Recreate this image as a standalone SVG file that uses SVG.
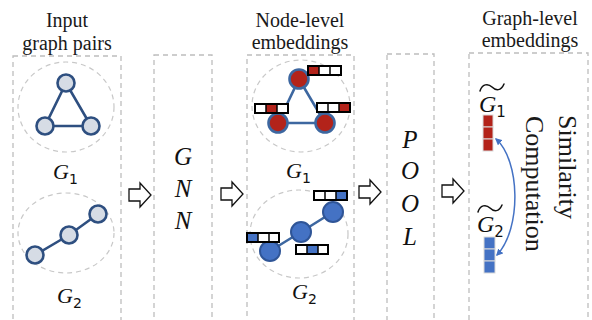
<svg xmlns="http://www.w3.org/2000/svg" width="592" height="320" viewBox="0 0 592 320">
<defs>
<style>
.panel{fill:none;stroke:#bdbdbd;stroke-width:1.3;stroke-dasharray:5,4}
.ring{fill:none;stroke:#c8c8c8;stroke-width:1.2;stroke-dasharray:5,4}
.hdr{font-family:"Liberation Serif","Times New Roman",serif;font-size:20px;fill:#1a1a1a;text-anchor:middle}
.math{font-family:"Liberation Serif","Times New Roman",serif;font-style:italic;font-size:22px;fill:#111}
.mbig{font-family:"Liberation Serif","Times New Roman",serif;font-style:italic;font-size:25px;fill:#111;text-anchor:middle}
.sub{font-family:"DejaVu Sans","Liberation Sans",sans-serif;font-style:normal;font-size:14px;fill:#111}
.big{font-family:"Liberation Serif","Times New Roman",serif;font-size:26px;fill:#1a1a1a}
.e1{stroke:#2e4f80;stroke-width:2.6;fill:none}
.n1{fill:#d6dce5;stroke:#2e4f80;stroke-width:2.6}
.e3{stroke:#3d67a0;stroke-width:2.6;fill:none}
.nr{fill:#b3231a;stroke:#3d67a0;stroke-width:2.6}
.nb{fill:#4472c4;stroke:#2f5597;stroke-width:2}
.box{fill:#fff;stroke:#000;stroke-width:2}
.frame{fill:none;stroke:#000;stroke-width:2}
.div{stroke:#000;stroke-width:1.5}
.cr{fill:#b3231a}
.cb{fill:#4472c4}
.harrow{fill:#fff;stroke:#111;stroke-width:1.3;stroke-linejoin:miter}
.sq{stroke:#d9d9d9;stroke-width:1}
.tilde{fill:none;stroke:#111;stroke-width:1.5;stroke-linecap:round}
</style>
<path id="ha" d="M0,-6 H11 V-12 L22,0 L11,12 V6 H0 Z"/>
<marker id="ah" viewBox="0 0 10 10" refX="8" refY="5" markerWidth="7" markerHeight="7" orient="auto-start-reverse" markerUnits="userSpaceOnUse">
<path d="M0,0 L10,5 L0,10 Z" fill="#4472c4"/>
</marker>
</defs>

<g id="headers">
<text class="hdr" x="67" y="27">Input</text>
<text class="hdr" x="67" y="50">graph pairs</text>
<text class="hdr" x="300" y="27">Node-level</text>
<text class="hdr" x="300" y="49">embeddings</text>
<text class="hdr" x="530" y="25">Graph-level</text>
<text class="hdr" x="530" y="47">embeddings</text>
</g>

<g id="panels">
<rect class="panel" x="13" y="56" width="108" height="280"/>
<rect class="panel" x="154" y="55" width="58" height="280"/>
<rect class="panel" x="247" y="55" width="107" height="280"/>
<rect class="panel" x="387" y="54" width="47" height="280"/>
<rect class="panel" x="469" y="53" width="119" height="280"/>
</g>

<g id="input-g1">
<ellipse class="ring" cx="66" cy="107" rx="48" ry="45"/>
<path class="e1" d="M66,83 L45,126 L91,126 Z"/>
<circle class="n1" cx="66" cy="83" r="8.5"/>
<circle class="n1" cx="45" cy="126" r="8.5"/>
<circle class="n1" cx="91" cy="126" r="8.5"/>
<text class="math" x="53" y="179">G<tspan class="sub" dy="5">1</tspan></text>
</g>

<g id="input-g2">
<ellipse class="ring" cx="66" cy="233" rx="48" ry="40"/>
<path class="e1" d="M35,255 L69,235 L98,214"/>
<circle class="n1" cx="35" cy="255" r="8.5"/>
<circle class="n1" cx="69" cy="235" r="8.5"/>
<circle class="n1" cx="98" cy="214" r="8.5"/>
<text class="math" x="57" y="303">G<tspan class="sub" dy="5">2</tspan></text>
</g>

<g id="gnn">
<text class="mbig" x="183" y="165">G</text>
<text class="mbig" x="183" y="197">N</text>
<text class="mbig" x="183" y="229">N</text>
</g>

<g id="node-g1">
<ellipse class="ring" cx="301" cy="106" rx="49" ry="46"/>
<path class="e3" d="M299,79 L278,123 L325,123 Z"/>
<circle class="nr" cx="299" cy="79" r="9.5"/>
<circle class="nr" cx="278" cy="123" r="9.5"/>
<circle class="nr" cx="325" cy="123" r="9.5"/>
<rect class="box" x="308" y="66" width="33" height="9"/>
<rect class="cr" x="308" y="66" width="11" height="9"/>
<rect class="frame" x="308" y="66" width="33" height="9"/>
<line class="div" x1="319" y1="66" x2="319" y2="75"/><line class="div" x1="330" y1="66" x2="330" y2="75"/>
<rect class="box" x="255" y="104" width="33" height="9"/>
<rect class="cr" x="266" y="104" width="11" height="9"/>
<rect class="frame" x="255" y="104" width="33" height="9"/>
<line class="div" x1="266" y1="104" x2="266" y2="113"/><line class="div" x1="277" y1="104" x2="277" y2="113"/>
<rect class="box" x="317" y="103" width="33" height="9"/>
<rect class="cr" x="339" y="103" width="11" height="9"/>
<rect class="frame" x="317" y="103" width="33" height="9"/>
<line class="div" x1="328" y1="103" x2="328" y2="112"/><line class="div" x1="339" y1="103" x2="339" y2="112"/>
<text class="math" x="286" y="178">G<tspan class="sub" dy="5">1</tspan></text>
</g>

<g id="node-g2">
<ellipse class="ring" cx="299" cy="234" rx="49" ry="44"/>
<path class="e3" d="M270,251 L301,232 L333,212"/>
<circle class="nb" cx="270" cy="251" r="10"/>
<circle class="nb" cx="301" cy="232" r="10"/>
<circle class="nb" cx="333" cy="212" r="10"/>
<rect class="box" x="314" y="191" width="33" height="9"/>
<rect class="cb" x="336" y="191" width="11" height="9"/>
<rect class="frame" x="314" y="191" width="33" height="9"/>
<line class="div" x1="325" y1="191" x2="325" y2="200"/><line class="div" x1="336" y1="191" x2="336" y2="200"/>
<rect class="box" x="247" y="233" width="32" height="9"/>
<rect class="cb" x="247" y="233" width="11" height="9"/>
<rect class="frame" x="247" y="233" width="32" height="9"/>
<line class="div" x1="258" y1="233" x2="258" y2="242"/><line class="div" x1="269" y1="233" x2="269" y2="242"/>
<rect class="box" x="296" y="245" width="32" height="9"/>
<rect class="cb" x="307" y="245" width="11" height="9"/>
<rect class="frame" x="296" y="245" width="32" height="9"/>
<line class="div" x1="307" y1="245" x2="307" y2="254"/><line class="div" x1="318" y1="245" x2="318" y2="254"/>
<text class="math" x="292" y="299">G<tspan class="sub" dy="5">2</tspan></text>
</g>

<g id="pool">
<text class="mbig" x="410" y="148">P</text>
<text class="mbig" x="410" y="179">O</text>
<text class="mbig" x="410" y="212">O</text>
<text class="mbig" x="410" y="245">L</text>
</g>

<g id="graph-g1">
<path class="tilde" d="M480,91 C482,84 488,83 492,87 C496,91 501,91 504,84"/>
<text class="math" x="479" y="112" style="font-size:24px">G<tspan class="sub" dy="5" style="font-size:15px">1</tspan></text>
<rect class="cr sq" x="483" y="115" width="10" height="12"/>
<rect class="cr sq" x="483" y="127" width="10" height="12"/>
<rect class="cr sq" x="483" y="139" width="10" height="12"/>
</g>

<g id="graph-g2">
<path class="tilde" d="M478,212 C480,205 486,204 490,208 C494,212 499,212 502,205"/>
<text class="math" x="477" y="232" style="font-size:24px">G<tspan class="sub" dy="5" style="font-size:15px">2</tspan></text>
<rect class="cb sq" x="484" y="237" width="11" height="12"/>
<rect class="cb sq" x="484" y="249" width="11" height="12"/>
<rect class="cb sq" x="484" y="261" width="11" height="12"/>
</g>

<g id="similarity">
<text class="big" transform="translate(559,115) rotate(90)">Similarity</text>
<text class="big" transform="translate(526,116) rotate(90)">Computation</text>
</g>

<g id="connectors">
<use href="#ha" class="harrow" transform="translate(129,195)"/>
<use href="#ha" class="harrow" transform="translate(221,194)"/>
<use href="#ha" class="harrow" transform="translate(359,192)"/>
<use href="#ha" class="harrow" transform="translate(442,191)"/>
<path d="M496,139 C520,160 522,228 497,255" fill="none" stroke="#4472c4" stroke-width="1.5" marker-start="url(#ah)" marker-end="url(#ah)"/>
</g>
</svg>
